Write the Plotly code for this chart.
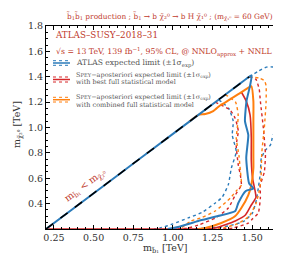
import plotly.graph_objects as go

# ---------------- data (TeV) ----------------
kin_x = [0.2, 1.48]
kin_y = [0.2, 1.40]

atlas_exp_x = [0.2, 0.6, 1.0, 1.3, 1.48, 1.496, 1.486, 1.464, 1.454, 1.475, 1.462, 1.480, 1.507, 1.459, 1.412, 1.393, 1.286, 1.160, 1.032, 0.968]
atlas_exp_y = [0.2, 0.575, 0.95, 1.231, 1.40, 1.41, 1.33, 1.21, 1.05, 0.94, 0.76, 0.56, 0.52, 0.50, 0.405, 0.342, 0.302, 0.263, 0.216, 0.2]

atlas_up_x = [1.480, 1.538, 1.589, 1.633, 1.665, 1.684, 1.689, 1.678, 1.658, 1.626, 1.614, 1.583, 1.557, 1.551, 1.538, 1.526, 1.501, 1.450, 1.349, 1.223, 1.128]
atlas_up_y = [1.40, 1.444, 1.476, 1.476, 1.444, 1.389, 1.271, 1.153, 1.035, 0.917, 0.861, 0.822, 0.759, 0.641, 0.523, 0.428, 0.326, 0.263, 0.224, 0.208, 0.2]

atlas_dn_x = [1.288, 1.352, 1.380, 1.374, 1.399, 1.368, 1.349, 1.310, 1.267, 1.182, 1.096, 1.000, 0.920, 0.880]
atlas_dn_y = [1.22, 1.15, 1.05, 0.94, 0.81, 0.68, 0.55, 0.45, 0.405, 0.33, 0.287, 0.24, 0.208, 0.2]

best_exp_x = [1.431, 1.462, 1.486, 1.494, 1.494, 1.502, 1.518, 1.523, 1.494, 1.457, 1.393, 1.267, 1.214, 0.8, 0.2]
best_exp_y = [1.28, 1.208, 1.10, 0.92, 0.74, 0.6, 0.5, 0.45, 0.389, 0.31, 0.263, 0.208, 0.2, 0.2, 0.2]

best_up_x = [1.480, 1.523, 1.544, 1.551, 1.570, 1.583, 1.576, 1.551, 1.551, 1.538, 1.502, 1.475, 1.380, 1.317]
best_up_y = [1.40, 1.38, 1.30, 1.208, 0.995, 0.783, 0.65, 0.546, 0.444, 0.326, 0.28, 0.247, 0.208, 0.2]

best_dn_x = [1.267, 1.360, 1.392, 1.412, 1.399, 1.412, 1.425, 1.431, 1.393, 1.349, 1.267, 1.160, 1.096, 1.032]
best_dn_y = [1.2, 1.139, 1.074, 0.972, 0.861, 0.704, 0.625, 0.546, 0.468, 0.365, 0.287, 0.231, 0.208, 0.2]

comb_exp_x = [1.10, 1.160, 1.204, 1.254, 1.299, 1.323, 1.362, 1.412, 1.462, 1.494, 1.507, 1.507, 1.507, 1.507, 1.494, 1.475, 1.431, 1.393, 1.305, 1.204, 1.160]
comb_exp_y = [1.044, 1.10, 1.106, 1.129, 1.176, 1.192, 1.224, 1.263, 1.303, 1.326, 1.208, 1.05, 0.783, 0.68, 0.546, 0.468, 0.365, 0.302, 0.247, 0.208, 0.2]

comb_up_x = [1.480, 1.544, 1.576, 1.587, 1.587, 1.576, 1.560, 1.555, 1.544, 1.523, 1.480, 1.406, 1.320, 1.267]
comb_up_y = [1.40, 1.39, 1.37, 1.33, 1.2, 1.0, 0.8, 0.6, 0.5, 0.4, 0.3, 0.24, 0.21, 0.2]

comb_dn_x = [1.331, 1.395, 1.411, 1.406, 1.399, 1.416, 1.425, 1.431, 1.399, 1.362, 1.267, 1.182, 1.115, 1.043]
comb_dn_y = [1.26, 1.2, 1.1, 1.0, 0.917, 0.78, 0.657, 0.546, 0.5, 0.444, 0.342, 0.29, 0.263, 0.2]

x_ticks = [0.25, 0.50, 0.75, 1.00, 1.25, 1.50]
y_ticks = [0.4, 0.6, 0.8, 1.0, 1.2, 1.4, 1.6, 1.8]

# ---------------- style ----------------
BLUE = "#2b7bba"
RED = "#d62728"
ORANGE = "#ff7f0e"
TXTRED = "#c0392b"
GREY = "#555555"
FONT = "DejaVu Serif"

W, H = 281, 255
L, R, T, B = 38, 5, 18, 34


def px(xp, yp):
    """pixel position -> paper coordinates (layout only)"""
    return (xp - L) / (W - L - R), (H - B - yp) / (H - T - B)


fig = go.Figure()

def add(x, y, color, dash, width):
    fig.add_trace(go.Scatter(x=x, y=y, mode="lines", showlegend=False, hoverinfo="skip",
                             line=dict(color=color, dash=dash, width=width, shape="spline", smoothing=0.5)))

add(atlas_up_x, atlas_up_y, BLUE, "dot", 1.4)
add(atlas_dn_x, atlas_dn_y, BLUE, "dot", 1.4)
add(best_up_x, best_up_y, RED, "dot", 1.4)
add(best_dn_x, best_dn_y, RED, "dot", 1.4)
add(comb_up_x, comb_up_y, ORANGE, "dot", 1.4)
add(comb_dn_x, comb_dn_y, ORANGE, "dot", 1.4)
add(best_exp_x, best_exp_y, RED, "solid", 1.6)
add(comb_exp_x, comb_exp_y, ORANGE, "solid", 2)
add(atlas_exp_x, atlas_exp_y, BLUE, "solid", 2)
fig.add_trace(go.Scatter(x=kin_x, y=kin_y, mode="lines", showlegend=False, hoverinfo="skip",
                         line=dict(color="black", dash="dash", width=1.6)))

# ---------------- legend (drawn manually) ----------------
shapes = []
def legend_sample(color, ys):
    x0, _ = px(45, 0)
    x1, _ = px(62, 0)
    for yp, d in zip(ys, ["dot", "solid", "dot"]):
        _, yy = px(0, yp)
        shapes.append(dict(type="line", xref="paper", yref="paper", x0=x0, x1=x1, y0=yy, y1=yy,
                           line=dict(color=color, width=1 if d == "dot" else 1.5, dash=d)))

legend_sample(BLUE, [52.7, 55, 57.3])
legend_sample(RED, [69, 71.5, 74])
legend_sample(ORANGE, [89.3, 91.7, 94])

ann = []
def text(xp, yp, s, size, color, xanchor="left", yanchor="middle", angle=0):
    xx, yy = px(xp, yp)
    ann.append(dict(x=xx, y=yy, xref="paper", yref="paper", text=s, showarrow=False,
                    xanchor=xanchor, yanchor=yanchor, textangle=angle,
                    font=dict(family=FONT, size=size, color=color)))

sc = "S<span style='font-size:5.2px'>PEY</span>"
text(161, 9, "b\u0303<sub>1</sub>b\u0303<sub>1</sub> production ; b\u0303<sub>1</sub> \u2192 b \u03c7\u0303\u2082\u2070 \u2192 b H \u03c7\u0303\u2081\u2070 ; (m<sub>\u03c7\u0303\u2081\u2070</sub> = 60 GeV)",
     7.4, TXTRED, xanchor="center")
text(45, 27, "ATLAS\u2013SUSY\u20132018\u201331", 8.8, TXTRED)
text(46, 43.5, "\u221as = 13 TeV, 139 fb<sup>\u22121</sup>, 95% CL, @ NNLO<sub>approx</sub> + NNLL", 7.8, TXTRED)
text(66, 55, "ATLAS expected limit (\u00b11\u03c3<sub>exp</sub>)", 7.6, GREY)
text(66, 67, sc + "\u2212aposteriori expected limit (\u00b11\u03c3<sub>exp</sub>)", 6.5, GREY)
text(66, 74, "with best full statistical model", 6.5, GREY)
text(66, 89.5, sc + "\u2212aposteriori expected limit (\u00b11\u03c3<sub>exp</sub>)", 6.5, GREY)
text(66, 96.5, "with combined full statistical model", 6.5, GREY)

# axis titles
text(157, 240, "m<sub>b\u0303\u2081</sub> [TeV]", 9.5, "#333333", xanchor="center")
text(10, 117, "m<sub>\u03c7\u0303\u2082\u2070</sub> [TeV]", 9.5, "#333333", xanchor="center", angle=-90)

# kinematic label along the diagonal
ann.append(dict(x=0.446, y=0.545, xref="x", yref="y", showarrow=False, textangle=-37,
                text="m<sub>b\u0303\u2081</sub> < m<sub>\u03c7\u0303\u2082\u2070</sub>",
                font=dict(family=FONT, size=9.5, color=TXTRED)))

axis_common = dict(showline=True, linecolor="black", linewidth=1, mirror="allticks",
                   ticks="inside", ticklen=4, tickwidth=0.8, tickcolor="black",
                   showgrid=False, zeroline=False,
                   tickfont=dict(family=FONT, size=9.5, color="#333333"))

fig.update_layout(
    width=W, height=H,
    margin=dict(l=L, r=R, t=T, b=B),
    paper_bgcolor="white", plot_bgcolor="white",
    xaxis=dict(range=[0.2, 1.7], tickvals=x_ticks, ticktext=[f"{v:.2f}" for v in x_ticks],
               minor=dict(dtick=0.05, ticks="inside", ticklen=2, tickcolor="black", tickwidth=0.6),
               **axis_common),
    yaxis=dict(range=[0.2, 1.8005], tickvals=y_ticks, ticktext=[f"{v:.1f}" for v in y_ticks],
               minor=dict(dtick=0.05, ticks="inside", ticklen=2, tickcolor="black", tickwidth=0.6),
               **axis_common),
    shapes=shapes,
    annotations=ann,
)

fig.write_html("out.html")
